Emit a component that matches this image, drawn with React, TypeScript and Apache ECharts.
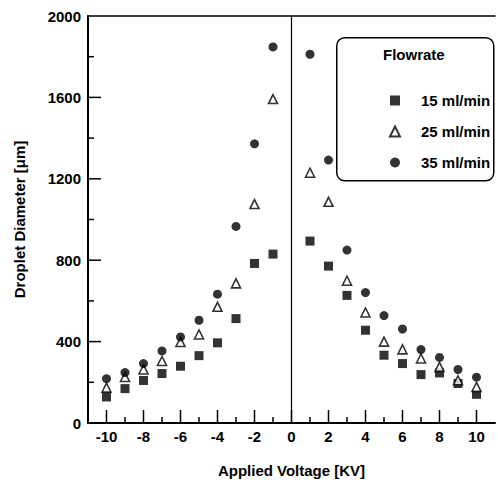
import React, { useEffect, useRef } from "react";
import * as echarts from "echarts";

const voltages = [-10, -9, -8, -7, -6, -5, -4, -3, -2, -1, 1, 2, 3, 4, 5, 6, 7, 8, 9, 10];
const flow15 = [128, 169, 209, 243, 279, 331, 394, 513, 784, 830, 894, 771, 627, 456, 333, 292, 238, 246, 194, 141];
const flow25 = [174, 226, 263, 305, 398, 435, 571, 686, 1076, 1592, 1230, 1087, 699, 543, 400, 362, 317, 276, 210, 177];
const flow35 = [218, 248, 292, 354, 423, 505, 633, 966, 1372, 1848, 1812, 1292, 850, 641, 528, 462, 361, 322, 263, 225];
const seriesNames = ["15 ml/min", "25 ml/min", "35 ml/min"];
const legendTitle = "Flowrate";
const xName = "Applied Voltage [KV]";
const yName = "Droplet Diameter [μm]";
const xMajorTicks = [-10, -8, -6, -4, -2, 0, 2, 4, 6, 8, 10];
const xMinorTicks = [-9, -7, -5, -3, -1, 1, 3, 5, 7, 9];
const yMajorTicks = [400, 800, 1200, 1600];
const yMinorTicks = [200, 600, 1000, 1400, 1800];

const FONT = "'Liberation Sans', Arial, sans-serif";
const X_MIN = -11;
const Y_MIN = 0;

export default function App() {
  const ref = useRef<HTMLDivElement>(null);
  useEffect(() => {
    if (!ref.current) return;
    const chart = echarts.init(ref.current, undefined, { renderer: "svg" });
    const pts = (vals: number[]) => voltages.map((v, i) => [v, vals[i]]);
    const MAJOR = 13;
    const MINOR = 6;
    const xTickData = [
      ...xMajorTicks.map((v) => [v, Y_MIN, MAJOR]),
      ...xMinorTicks.map((v) => [v, Y_MIN, MINOR]),
    ];
    const yTickData = [
      ...yMajorTicks.map((v) => [X_MIN, v, MAJOR]),
      ...yMinorTicks.map((v) => [X_MIN, v, MINOR]),
    ];
    chart.setOption({
      animation: false,
      backgroundColor: "#fff",
      grid: { left: 88, top: 16, width: 413, height: 407, show: false },
      xAxis: [
        {
          type: "value",
          min: X_MIN,
          max: 11,
          interval: 1,
          position: "bottom",
          axisLine: { show: true, onZero: false, lineStyle: { color: "#000", width: 2 } },
          axisTick: { show: false },
          axisLabel: {
            show: true,
            color: "#000",
            fontFamily: FONT,
            fontWeight: "bold",
            fontSize: 15,
            margin: 6,
            formatter: (v: number) => (v % 2 === 0 && Math.abs(v) <= 10 ? String(v) : ""),
          },
          splitLine: { show: false },
          name: xName,
          nameLocation: "middle",
          nameGap: 40,
          nameTextStyle: { color: "#000", fontFamily: FONT, fontWeight: "bold", fontSize: 15 },
        },
        {
          type: "value",
          min: X_MIN,
          max: 11,
          interval: 1,
          position: "top",
          axisLine: { show: true, onZero: false, lineStyle: { color: "#000", width: 1.5 } },
          axisTick: { show: false },
          axisLabel: { show: false },
          splitLine: { show: false },
        },
      ],
      yAxis: {
        type: "value",
        min: Y_MIN,
        max: 2000,
        interval: 400,
        axisLine: { show: true, onZero: false, lineStyle: { color: "#000", width: 2 } },
        axisTick: { show: false },
        axisLabel: {
          show: true,
          color: "#000",
          fontFamily: FONT,
          fontWeight: "bold",
          fontSize: 15,
          margin: 7,
          formatter: (v: number) => String(v),
        },
        splitLine: { show: false },
        name: yName,
        nameLocation: "middle",
        nameGap: 61,
        nameTextStyle: { color: "#000", fontFamily: FONT, fontWeight: "bold", fontSize: 15 },
      },
      legend: {
        orient: "vertical",
        left: 384,
        top: 88,
        itemWidth: 10,
        itemHeight: 10,
        itemGap: 16,
        data: seriesNames,
        formatter: (n: string) => `{a|${n}}`,
        textStyle: {
          color: "#000",
          fontFamily: FONT,
          fontWeight: "bold",
          fontSize: 15,
          rich: { a: { padding: [0, 0, 0, 16], fontFamily: FONT, fontWeight: "bold", fontSize: 15, color: "#000" } },
        },
      },
      graphic: [
        {
          type: "rect",
          left: 336,
          top: 37,
          shape: { width: 157, height: 143, r: 8 },
          style: { fill: "#fff", stroke: "#000", lineWidth: 1.5 },
          z: 0,
        },
        {
          type: "text",
          left: 383,
          top: 47,
          style: { text: legendTitle, fill: "#000", font: `bold 15px ${FONT}` },
          z: 1,
        },
      ],
      series: [
        {
          name: "xticks",
          type: "custom",
          silent: true,
          clip: false,
          z: 3,
          data: xTickData,
          renderItem: (params: any, api: any) => {
            const p = api.coord([api.value(0), api.value(1)]);
            const len = api.value(2);
            return {
              type: "line",
              shape: { x1: p[0], y1: p[1], x2: p[0], y2: p[1] - len },
              style: { stroke: "#000", lineWidth: 1.5 },
            };
          },
        },
        {
          name: "yticks",
          type: "custom",
          silent: true,
          clip: false,
          z: 3,
          data: yTickData,
          renderItem: (params: any, api: any) => {
            const p = api.coord([api.value(0), api.value(1)]);
            const len = api.value(2);
            return {
              type: "line",
              shape: { x1: p[0], y1: p[1], x2: p[0] + len, y2: p[1] },
              style: { stroke: "#000", lineWidth: 1.5 },
            };
          },
        },
        {
          name: seriesNames[0],
          type: "scatter",
          symbol: "rect",
          symbolSize: 9,
          itemStyle: { color: "#000" },
          data: pts(flow15),
          z: 5,
          markLine: {
            silent: true,
            symbol: "none",
            label: { show: false },
            lineStyle: { color: "#000", width: 1.2, type: "solid" },
            data: [{ xAxis: 0 }],
          },
        },
        {
          name: seriesNames[1],
          type: "scatter",
          symbol: "triangle",
          symbolSize: 9,
          itemStyle: { color: "#fff", borderColor: "#000", borderWidth: 1.6 },
          data: pts(flow25),
          z: 5,
        },
        {
          name: seriesNames[2],
          type: "scatter",
          symbol: "circle",
          symbolSize: 9,
          itemStyle: { color: "#000" },
          data: pts(flow35),
          z: 5,
        },
      ],
    });
    return () => chart.dispose();
  }, []);
  return (
    <div style={{ position: "fixed", left: 0, top: 0, width: 498, height: 485, background: "#fff" }}>
      <div ref={ref} style={{ width: 498, height: 485 }} />
    </div>
  );
}
